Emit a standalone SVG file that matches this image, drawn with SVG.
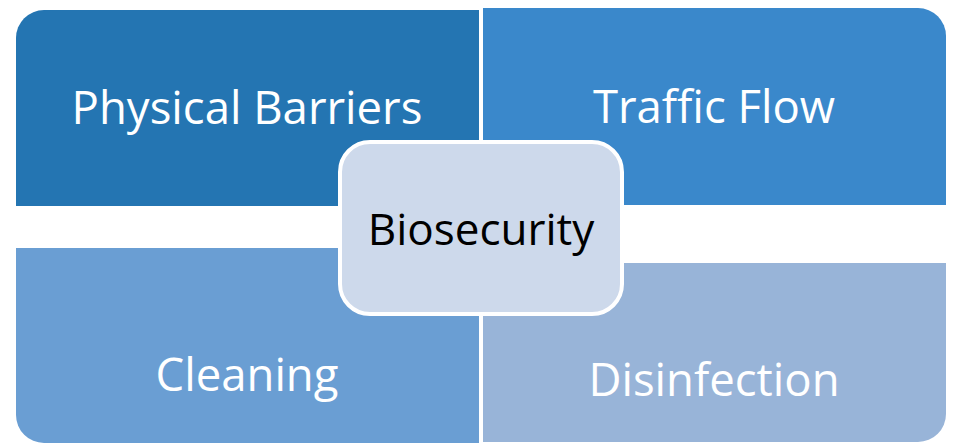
<svg xmlns="http://www.w3.org/2000/svg" width="955" height="443" viewBox="0 0 955 443">
<style>
.lbl{font-family:"Open Sans","Liberation Sans",sans-serif;font-size:45.5px;fill:#fff;text-anchor:middle}
.ctr{font-family:"Open Sans","Liberation Sans",sans-serif;font-size:44px;fill:#000;text-anchor:middle}
</style>
<rect width="955" height="443" fill="#fff"/>
<g id="physical-barriers">
<path d="M16,38 A28,28 0 0 1 44,10 L479,10 L479,206 L16,206 Z" fill="#2475B2"/>
<text class="lbl" x="247" y="124">Physical Barriers</text>
</g>
<g id="traffic-flow">
<path d="M483,8 L918,8 A28,28 0 0 1 946,36 L946,205 L483,205 Z" fill="#3A88CB"/>
<text class="lbl" x="714" y="123">Traffic Flow</text>
</g>
<g id="cleaning">
<path d="M16,248 L479,248 L479,443 L44,443 A28,28 0 0 1 16,415 Z" fill="#6A9ED3"/>
<text class="lbl" x="247" y="391">Cleaning</text>
</g>
<g id="disinfection">
<path d="M483,263 L946,263 L946,414 A28,28 0 0 1 918,442 L483,442 Z" fill="#98B4D8"/>
<text class="lbl" x="714" y="396">Disinfection</text>
</g>
<g id="connectors"></g>
<g id="biosecurity">
<rect x="340" y="142" width="282" height="172" rx="30" ry="30" fill="#CDD9EB" stroke="#fff" stroke-width="4"/>
<text class="ctr" x="481" y="245">Biosecurity</text>
</g>
</svg>
